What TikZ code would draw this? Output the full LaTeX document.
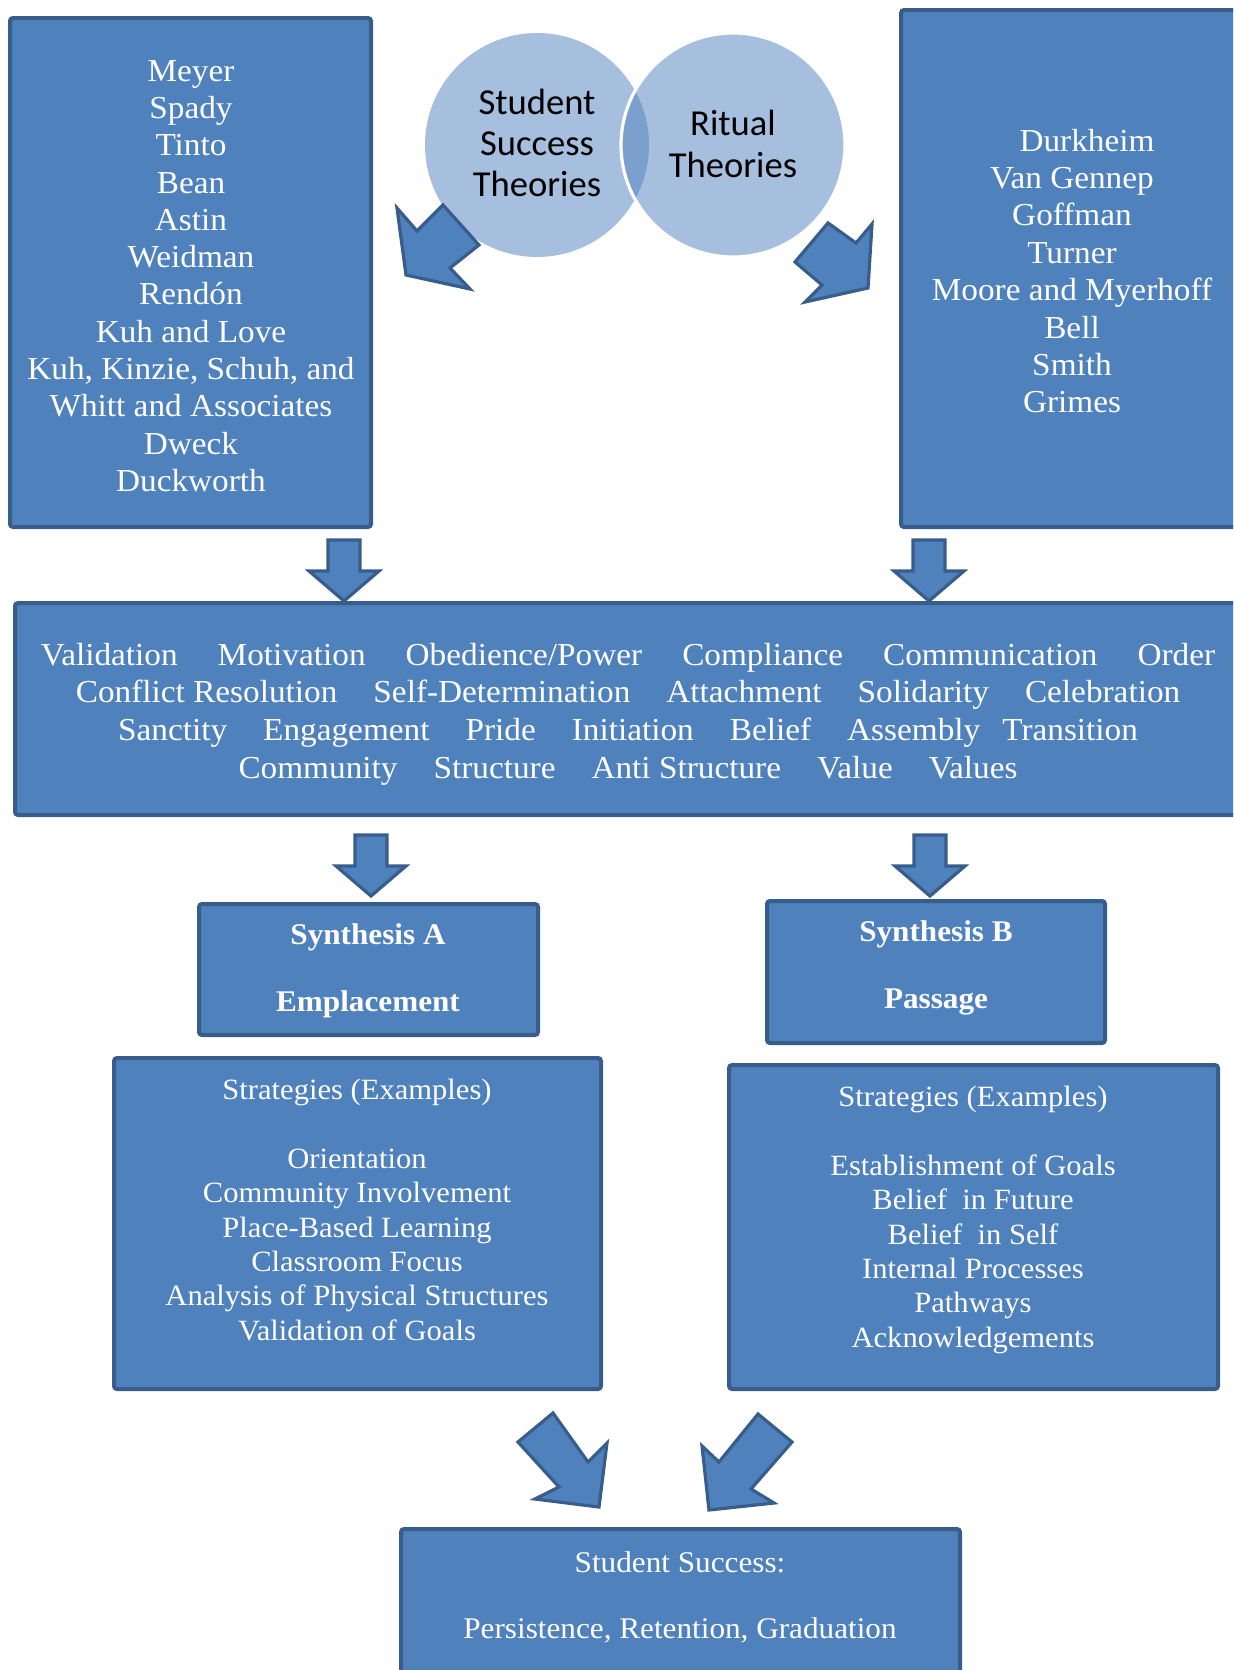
\documentclass[tikz,border=0pt]{standalone}
\usepackage{fontspec}
\setmainfont{Liberation Serif}[FakeStretch=1.04]
\newfontfamily\circfont{Carlito}
\usepackage{tikz}
\usetikzlibrary{calc}
\definecolor{panelfill}{HTML}{4F81BD}
\definecolor{panelline}{HTML}{385D8A}
\definecolor{circfill}{HTML}{A7BFDE}
\definecolor{lensfill}{HTML}{7BA0CD}
\tikzset{
  panel/.style={draw=panelline, fill=panelfill, line width=2pt, rounded corners=1.5pt},
  blockarrow/.style={draw=panelline, fill=panelfill, line width=1.6pt},
  paneltext/.style={text=white, align=center, inner sep=0pt},
  circtext/.style={text=black, align=center, inner sep=0pt}
}
\def\blockdown(#1,#2){\draw[blockarrow] (#1-16,#2) -- (#1+16,#2) -- (#1+16,#2+31) -- (#1+35,#2+31) -- (#1,#2+61) -- (#1-35,#2+31) -- (#1-16,#2+31) -- cycle;}
\newcommand{\wgap}{\hspace{18pt}}

\begin{document}
\begin{tikzpicture}[x=0.5pt,y=-0.5pt]
		%%%%% FRAME %%%%%
		\useasboundingbox (0,0) rectangle (1233,1670);
		\clip (0,0) rectangle (1233,1670);
		
		%%%%% TOP: THEORISTS %%%%%
		\draw[panel] (10,18) rectangle (371,527);
		\node[paneltext, font=\fontsize{16pt}{18.65pt}\selectfont] (successnames) at (191,276)
			{Meyer\\Spady\\Tinto\\Bean\\Astin\\Weidman\\Rend\'on\\Kuh and Love\\Kuh, Kinzie, Schuh, and\\Whitt and Associates\\Dweck\\Duckworth};
		
		\draw[panel] (901,10) rectangle (1250,527);
		\node[paneltext, font=\fontsize{16pt}{18.7pt}\selectfont] (ritualnames) at (1072,271)
			{\hspace*{15pt}Durkheim\\Van Gennep\\Goffman\\Turner\\Moore and Myerhoff\\Bell\\Smith\\Grimes};
		
		%%%%% CIRCLES %%%%%
		\fill[circfill] (537,145) circle[radius=56pt];
		\fill[circfill] (733,145) circle[radius=56pt];
		\begin{scope}
			\clip (537,145) circle[radius=56pt];
			\fill[lensfill] (733,145) circle[radius=56pt];
		\end{scope}
		\draw[white, line width=1.6pt] (733,145) circle[radius=56pt];
		\node[circtext, font=\circfont\fontsize{18.3pt}{20.4pt}\selectfont] (successcirc) at (537,143) {Student\\Success\\Theories};
		\node[circtext, font=\circfont\fontsize{18.3pt}{20.7pt}\selectfont] (ritualcirc) at (733,144) {Ritual\\Theories};
		
		\draw[blockarrow] (397,208) -- (406,275) -- (470,289) -- (450,268) -- (479,245) -- (443,205) -- (417,231) -- cycle;
		\draw[blockarrow] (828,223) -- (856,243) -- (872,224) -- (868,288) -- (805,302) -- (822,285) -- (795,262) -- cycle;
		
		%%%%% CONCEPTS %%%%%
		\blockdown(344,540)
		\blockdown(929,540)
		
		\draw[panel] (15,603) rectangle (1250,815);
		\node[paneltext, font=\fontsize{16pt}{18.85pt}\selectfont] (concepts) at (628,714)
			{Validation\hspace{20pt}Motivation\hspace{20pt}Obedience/Power\hspace{20pt}Compliance\hspace{20pt}Communication\hspace{20pt}Order\\
			 Conflict Resolution\wgap Self-Determination\wgap Attachment\wgap Solidarity\wgap Celebration\\
			 Sanctity\wgap Engagement\wgap Pride\wgap Initiation\wgap Belief\wgap Assembly\hspace{11pt}Transition\\
			 Community\wgap Structure\wgap Anti Structure\wgap Value\wgap Values};
		
		%%%%% SYNTHESES %%%%%
		\blockdown(371,835)
		\blockdown(930,835)
		
		\draw[panel] (199,904) rectangle (538,1035);
		\node[paneltext, font=\bfseries\fontsize{15pt}{16.75pt}\selectfont] (synthA) at (368,971)
			{Synthesis A\\[16.75pt]Emplacement};
		
		\draw[panel] (767,901) rectangle (1105,1043);
		\node[paneltext, font=\bfseries\fontsize{15pt}{16.75pt}\selectfont] (synthB) at (936,968)
			{Synthesis B\\[16.75pt]Passage};
		
		%%%%% STRATEGIES %%%%%
		\draw[panel] (114,1058) rectangle (601,1389);
		\node[paneltext, font=\fontsize{14.7pt}{17.15pt}\selectfont] (stratA) at (357,1210)
			{Strategies (Examples)\\[17.15pt]Orientation\\Community Involvement\\Place-Based Learning\\Classroom Focus\\Analysis of Physical Structures\\Validation of Goals};
		
		\draw[panel] (729,1065) rectangle (1218,1389);
		\node[paneltext, font=\fontsize{14.7pt}{17.15pt}\selectfont] (stratB) at (973,1220)
			{Strategies (Examples)\\[17.15pt]Establishment of Goals\\Belief\ \ in Future\\Belief\ \ in Self\\Internal Processes\\Pathways\\Acknowledgements};
		
		%%%%% OUTCOME %%%%%
		\draw[blockarrow] (553,1413) -- (518,1442) -- (559,1487) -- (535,1499) -- (599,1507) -- (607,1443) -- (588,1462) -- cycle;
		\draw[blockarrow] (758,1414) -- (792,1442) -- (751,1489) -- (774,1503) -- (709,1510) -- (702,1446) -- (719,1462) -- cycle;
		
		\draw[panel] (401,1529) rectangle (960,1700);
		\node[paneltext, font=\fontsize{15pt}{16.5pt}\selectfont] (outcome) at (680,1597)
			{Student Success:\\[16.5pt]Persistence, Retention, Graduation};
		%%%%% END %%%%%
\end{tikzpicture}
\end{document}
